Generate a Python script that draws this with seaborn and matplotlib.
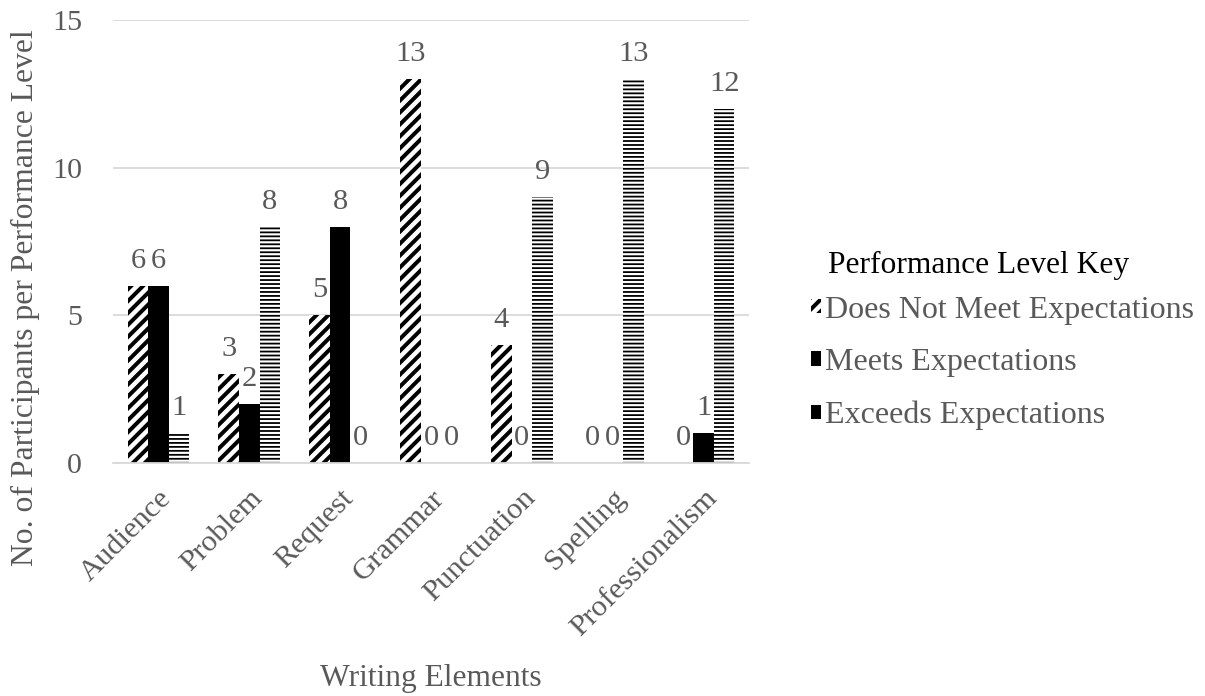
import matplotlib
matplotlib.use("Agg")
import matplotlib.pyplot as plt
import seaborn as sns
import pandas as pd
from matplotlib.patches import Patch

categories = ["Audience", "Problem", "Request", "Grammar", "Punctuation", "Spelling", "Professionalism"]
levels = ["Does Not Meet Expectations", "Meets Expectations", "Exceeds Expectations"]
does_not_meet = [6, 3, 5, 13, 4, 0, 0]
meets = [6, 2, 8, 0, 0, 0, 1]
exceeds = [1, 8, 0, 0, 9, 13, 12]
y_ticks = [0, 5, 10, 15]

df = pd.DataFrame({
    "Writing Elements": categories * 3,
    "Level": [levels[0]] * 7 + [levels[1]] * 7 + [levels[2]] * 7,
    "Count": does_not_meet + meets + exceeds,
})

DPI = 143
W, H = 1205, 696


def px(p):
    """Convert a size in pixels to points at the output resolution."""
    return p * 72.0 / DPI


sns.set_theme(style="white")
plt.rcParams["font.family"] = ["Liberation Serif", "DejaVu Serif"]
plt.rcParams["hatch.linewidth"] = px(4)

GRAY = "#595959"
GRID = "#d9d9d9"

fig = plt.figure(figsize=(W / DPI, H / DPI), dpi=DPI)
ax_l, ax_r, ax_t, ax_b = 113, 749, 20, 463
ax = fig.add_axes([ax_l / W, 1 - ax_b / H, (ax_r - ax_l) / W, (ax_b - ax_t) / H])

sns.barplot(data=df, x="Writing Elements", y="Count", hue="Level",
            hue_order=levels, order=categories, width=0.68, gap=0,
            palette=["white", "black", "white"], edgecolor="black",
            linewidth=0, saturation=1, legend=False, ax=ax)

# diagonal stripes, solid fill, dense horizontal rules
hatches = ["////", None, "------"]
hatch_lw = [px(4), px(1), px(1.8)]
for cont, h, hl in zip(ax.containers, hatches, hatch_lw):
    for bar in cont:
        if h:
            bar.set_hatch(h)
            bar.set_edgecolor("black")
            if hasattr(bar, "set_hatch_linewidth"):
                bar.set_hatch_linewidth(hl)
        bar.set_linewidth(0)
    ax.bar_label(cont, labels=[f"{v:g}" for v in cont.datavalues],
                 padding=px(12), color=GRAY, fontsize=px(30.5))

ax.set_ylim(0, 15)
ax.set_yticks(y_ticks)
ax.set_yticklabels([str(t) for t in y_ticks])
ax.yaxis.grid(True, color=GRID, linewidth=px(1.8))
ax.set_axisbelow(True)
for s in ["left", "right", "top"]:
    ax.spines[s].set_visible(False)
ax.spines["bottom"].set_color(GRID)
ax.spines["bottom"].set_linewidth(px(1.8))

ax.tick_params(axis="y", length=0, pad=px(31), labelsize=px(30), labelcolor=GRAY)
ax.tick_params(axis="x", length=0, pad=px(22), labelsize=px(30.5), labelcolor=GRAY)
for lbl in ax.get_xticklabels():
    lbl.set_rotation(45)
    lbl.set_ha("right")
    lbl.set_rotation_mode("anchor")

ax_w, ax_h = ax_r - ax_l, ax_b - ax_t
ax.set_xlabel("Writing Elements", fontsize=px(31.5), color=GRAY)
ax.xaxis.set_label_coords(0.5, (ax_b - 664) / ax_h)
ax.set_ylabel("No. of Participants per Performance Level", fontsize=px(31.6), color=GRAY)
ax.yaxis.set_label_coords((40 - ax_l) / ax_w, (ax_b - 298) / ax_h)

# key: heading plus three swatch rows
fig.text(828 / W, 1 - 265 / H, "Performance Level Key", fontsize=px(31.5),
         color="black", ha="left", va="center")
handles = [
    Patch(facecolor="white", edgecolor="black", hatch="////", linewidth=0),
    Patch(facecolor="black", edgecolor="black", linewidth=0),
    Patch(facecolor="white", edgecolor="black", hatch="------", linewidth=0),
]
leg = fig.legend(handles, levels,
                 loc="center left", bbox_to_anchor=(811 / W, 1 - 363 / H),
                 frameon=False, fontsize=px(32),
                 handlelength=0.32, handleheight=0.32, handletextpad=0.12,
                 labelspacing=0.74, borderpad=0, borderaxespad=0)
for t in leg.get_texts():
    t.set_color(GRAY)

fig.savefig("out.png", dpi=DPI)
